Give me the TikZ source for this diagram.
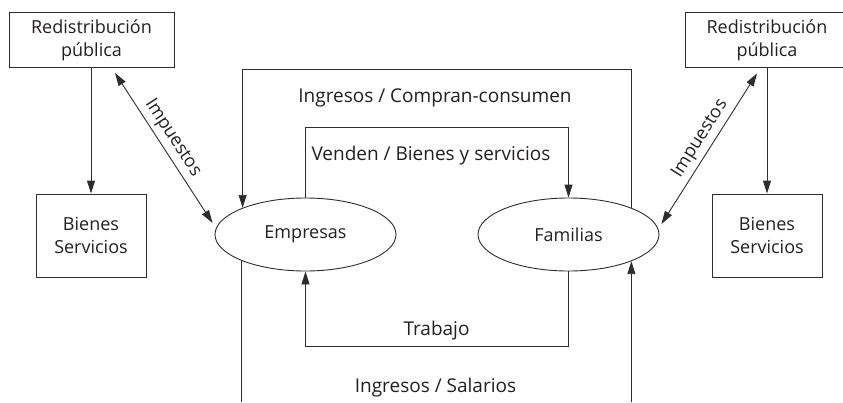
\documentclass[tikz,border=0pt]{standalone}
\usepackage{fontspec}
\setmainfont{Open Sans}
\usetikzlibrary{arrows.meta,shapes.geometric}
\definecolor{lc}{RGB}{45,45,45}
\definecolor{tc}{RGB}{35,31,32}
\begin{document}
\begin{tikzpicture}[x=1pt,y=-1pt,
  ln/.style={draw=lc, line width=0.9pt},
  arr/.style={-{Triangle[length=13pt,width=8pt]}},
  darr/.style={{Triangle[length=13pt,width=8pt]}-{Triangle[length=13pt,width=8pt]}},
  txt/.style={font=\fontsize{18}{23}\selectfont, text=tc},
  box/.style={ln, rectangle, align=center, txt, inner sep=0pt},
  oval/.style={ln, ellipse, minimum width=181pt, minimum height=73pt, inner sep=0pt, txt},
  lbl/.style={txt, inner sep=0pt},
  flow/.style={font=\fontsize{19}{23}\selectfont, text=tc, inner sep=0pt}]
\useasboundingbox (0,0) rectangle (843,402);

\node[box, minimum width=165pt, minimum height=55pt] (redL) at (91.5,40) {Redistribución\\pública};
\node[box, minimum width=164pt, minimum height=55pt] (redR) at (767,40) {Redistribución\\pública};
\node[box, minimum width=110pt, minimum height=83pt] (bienL) at (91,235.5) {Bienes\\Servicios};
\node[box, minimum width=110pt, minimum height=83pt] (bienR) at (767,235.5) {Bienes\\Servicios};
\node[oval] (emp) at (305.5,234.5) {Empresas};
\node[oval] (fam) at (568.5,234.5) {Familias};

\coordinate (otop) at (0,69);
\coordinate (itop) at (0,127);
\coordinate (tbot) at (0,346);
\coordinate (bot) at (0,402);

\draw[ln,arr] (redL.south -| bienL.north) -- (bienL.north);
\draw[ln,arr] (redR.south -| bienR.north) -- (bienR.north);
\draw[ln,arr] (fam.23.5) -- (fam.23.5 |- otop) -| (emp.157.7);
\draw[ln,arr] (emp.north) -- (emp.north |- itop) -| (fam.north);
\draw[ln,arr] (fam.south) -- (fam.south |- tbot) -| (emp.south);
\draw[ln] (emp.202.3) -- (emp.202.3 |- bot);
\draw[ln,arr] (fam.-23.5 |- bot) -- (fam.-23.5);

\draw[ln,darr] ([shift={(23.5,5)}]redL.south) -- node[lbl,sloped,pos=.48,above=4pt] (impL) {Impuestos} ([shift={(-2,-11.5)}]emp.west);
\draw[ln,darr] ([shift={(2,-10.5)}]fam.east) -- node[lbl,sloped,pos=.52,above=4pt] (impR) {Impuestos} ([shift={(-10,5.5)}]redR.south);

\node[flow, anchor=base] (l1) at (435,102.7) {Ingresos / Compran-consumen};
\node[flow, anchor=base] (l2) at (431,160.7) {Venden / Bienes y servicios};
\node[flow, anchor=base] (l3) at (436.5,335) {Trabajo};
\node[flow, anchor=base] (l4) at (435.5,392) {Ingresos / Salarios};
\end{tikzpicture}
\end{document}
